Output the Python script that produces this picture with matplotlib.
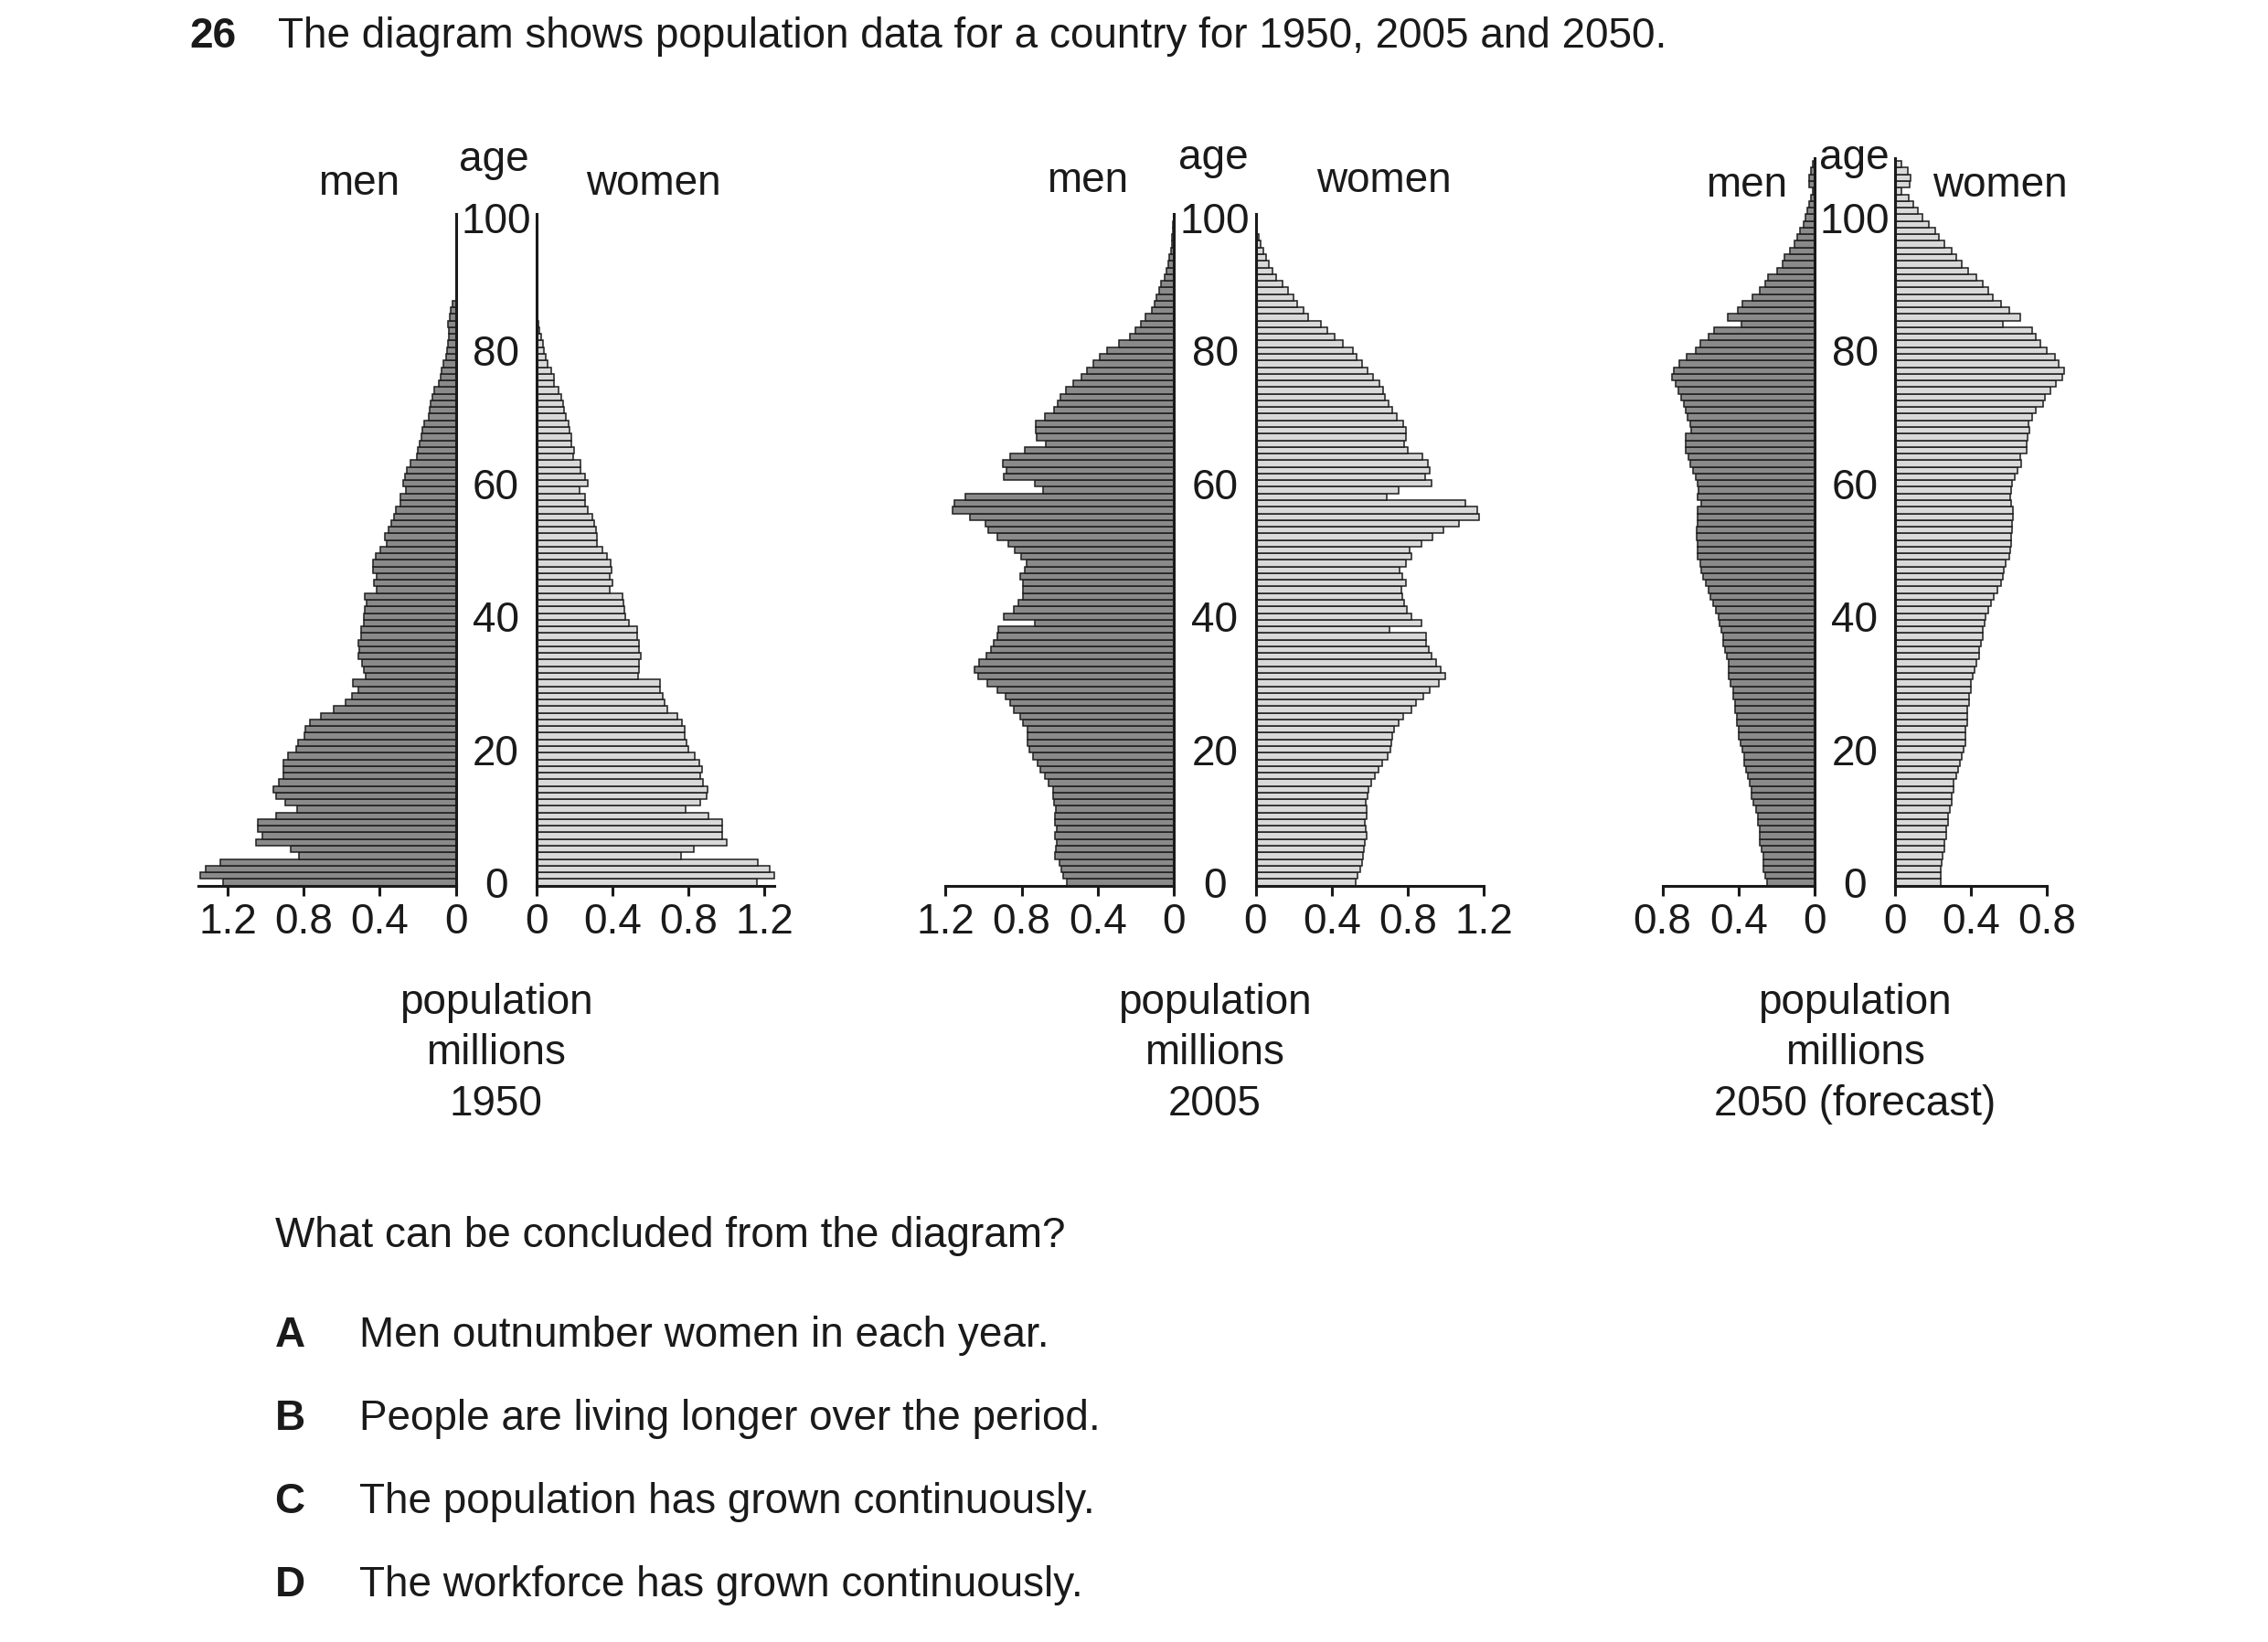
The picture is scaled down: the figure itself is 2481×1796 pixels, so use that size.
import matplotlib
matplotlib.use("Agg")
import matplotlib.pyplot as plt

plt.rcParams['font.family'] = ['Liberation Sans', 'DejaVu Sans']

# population in millions, one value per year of age (index = age)
men_1950 = [1.224, 1.346, 1.316, 1.24, 0.824, 0.869, 1.052, 1.015, 1.042, 1.042,
            0.946, 0.834, 0.895, 0.946, 0.96, 0.93, 0.906, 0.906, 0.906, 0.883,
            0.839, 0.828, 0.794, 0.792, 0.767, 0.707, 0.64, 0.579, 0.544, 0.514,
            0.541, 0.472, 0.485, 0.493, 0.51, 0.505, 0.51, 0.498, 0.498, 0.485,
            0.482, 0.477, 0.469, 0.477, 0.415, 0.428, 0.415, 0.436, 0.433, 0.42,
            0.395, 0.362, 0.374, 0.354, 0.338, 0.326, 0.313, 0.292, 0.292, 0.264,
            0.277, 0.269, 0.256, 0.236, 0.203, 0.198, 0.19, 0.179, 0.174, 0.166,
            0.144, 0.138, 0.133, 0.125, 0.111, 0.089, 0.08, 0.075, 0.067, 0.049,
            0.046, 0.043, 0.038, 0.038, 0.039, 0.033, 0.026, 0.016]
women_1950 = [1.163, 1.25, 1.228, 1.167, 0.76, 0.827, 1.0, 0.98, 0.98, 0.98,
              0.905, 0.787, 0.862, 0.898, 0.902, 0.878, 0.862, 0.874, 0.858, 0.833,
              0.80, 0.79, 0.783, 0.78, 0.766, 0.742, 0.69, 0.675, 0.665, 0.65,
              0.65, 0.534, 0.543, 0.543, 0.549, 0.543, 0.543, 0.53, 0.533, 0.489,
              0.469, 0.464, 0.459, 0.452, 0.385, 0.403, 0.385, 0.398, 0.39, 0.374,
              0.349, 0.32, 0.321, 0.313, 0.305, 0.297, 0.27, 0.259, 0.259, 0.23,
              0.27, 0.259, 0.234, 0.231, 0.193, 0.198, 0.185, 0.185, 0.177, 0.172,
              0.157, 0.148, 0.141, 0.131, 0.12, 0.095, 0.092, 0.079, 0.059, 0.049,
              0.043, 0.034, 0.026, 0.016, 0.01]

men_2005 = [0.563, 0.582, 0.593, 0.602, 0.624, 0.618, 0.615, 0.624, 0.615, 0.624,
            0.624, 0.618, 0.629, 0.633, 0.637, 0.66, 0.679, 0.70, 0.716, 0.739,
            0.758, 0.771, 0.771, 0.767, 0.793, 0.807, 0.84, 0.862, 0.886, 0.93,
            0.982, 1.028, 1.046, 1.022, 0.987, 0.96, 0.945, 0.927, 0.923, 0.73,
            0.895, 0.84, 0.817, 0.793, 0.794, 0.794, 0.807, 0.785, 0.776, 0.804,
            0.835, 0.868, 0.927, 0.976, 0.99, 1.07, 1.165, 1.152, 1.097, 0.688,
            0.73, 0.894, 0.88, 0.90, 0.862, 0.785, 0.673, 0.721, 0.728, 0.725,
            0.679, 0.628, 0.609, 0.596, 0.569, 0.527, 0.486, 0.455, 0.422, 0.39,
            0.349, 0.288, 0.233, 0.202, 0.171, 0.147, 0.114, 0.10, 0.09, 0.075,
            0.065, 0.05, 0.04, 0.03, 0.022, 0.015, 0.01, 0.008, 0.005, 0.003, 0.002]
women_2005 = [0.525, 0.538, 0.55, 0.561, 0.565, 0.569, 0.574, 0.583, 0.578, 0.574,
              0.583, 0.583, 0.58, 0.587, 0.593, 0.606, 0.626, 0.648, 0.666, 0.694,
              0.708, 0.712, 0.721, 0.727, 0.752, 0.776, 0.822, 0.844, 0.883, 0.914,
              0.965, 0.996, 0.972, 0.95, 0.927, 0.91, 0.895, 0.895, 0.703, 0.872,
              0.822, 0.794, 0.782, 0.771, 0.767, 0.789, 0.771, 0.758, 0.791, 0.822,
              0.809, 0.872, 0.928, 0.99, 1.07, 1.174, 1.165, 1.103, 0.69, 0.752,
              0.927, 0.892, 0.917, 0.904, 0.877, 0.80, 0.782, 0.791, 0.791, 0.776,
              0.743, 0.717, 0.699, 0.681, 0.67, 0.651, 0.62, 0.589, 0.56, 0.532,
              0.51, 0.46, 0.418, 0.378, 0.345, 0.277, 0.25, 0.22, 0.20, 0.17,
              0.14, 0.11, 0.09, 0.07, 0.055, 0.04, 0.025, 0.017, 0.008, 0.004, 0.002]

men_2050 = [0.25, 0.26, 0.27, 0.27, 0.27, 0.28, 0.29, 0.29, 0.29, 0.30,
            0.30, 0.31, 0.32, 0.33, 0.33, 0.34, 0.35, 0.36, 0.37, 0.37,
            0.38, 0.39, 0.40, 0.40, 0.41, 0.41, 0.42, 0.42, 0.43, 0.43,
            0.44, 0.45, 0.45, 0.45, 0.46, 0.47, 0.48, 0.48, 0.49, 0.50,
            0.503, 0.517, 0.533, 0.549, 0.559, 0.57, 0.586, 0.594, 0.60, 0.613,
            0.617, 0.614, 0.622, 0.62, 0.614, 0.617, 0.617, 0.598, 0.613, 0.61,
            0.614, 0.625, 0.638, 0.654, 0.665, 0.676, 0.678, 0.68, 0.649, 0.652,
            0.668, 0.68, 0.689, 0.70, 0.716, 0.73, 0.75, 0.74, 0.71, 0.673,
            0.625, 0.60, 0.559, 0.53, 0.387, 0.456, 0.403, 0.379, 0.327, 0.289,
            0.26, 0.244, 0.197, 0.168, 0.157, 0.129, 0.106, 0.09, 0.075, 0.059,
            0.046, 0.038, 0.027, 0.017, 0.011, 0.027, 0.027, 0.017, 0.011]
women_2050 = [0.24, 0.24, 0.24, 0.245, 0.25, 0.26, 0.26, 0.27, 0.27, 0.28,
              0.28, 0.29, 0.30, 0.30, 0.31, 0.31, 0.32, 0.33, 0.34, 0.35,
              0.36, 0.37, 0.37, 0.37, 0.38, 0.38, 0.38, 0.39, 0.39, 0.40,
              0.40, 0.41, 0.42, 0.43, 0.44, 0.44, 0.45, 0.46, 0.46, 0.47,
              0.476, 0.492, 0.506, 0.519, 0.538, 0.556, 0.567, 0.571, 0.583, 0.603,
              0.606, 0.61, 0.61, 0.614, 0.617, 0.622, 0.622, 0.61, 0.606, 0.611,
              0.614, 0.63, 0.646, 0.662, 0.657, 0.69, 0.694, 0.698, 0.706, 0.70,
              0.722, 0.741, 0.778, 0.789, 0.817, 0.848, 0.88, 0.889, 0.86, 0.84,
              0.80, 0.765, 0.74, 0.72, 0.567, 0.66, 0.60, 0.56, 0.516, 0.49,
              0.46, 0.43, 0.387, 0.35, 0.32, 0.30, 0.26, 0.229, 0.21, 0.178,
              0.146, 0.122, 0.098, 0.07, 0.035, 0.079, 0.083, 0.067, 0.035]

age_ticks = [0, 20, 40, 60, 80, 100]
men_ticks = [[0, 0.4, 0.8, 1.2], [0, 0.4, 0.8, 1.2], [0, 0.4, 0.8]]
women_ticks = [[0, 0.4, 0.8, 1.2], [0, 0.4, 0.8, 1.2], [0, 0.4, 0.8]]
years = ['1950', '2005', '2050 (forecast)']

W, H = 2481, 1796
fig = plt.figure(figsize=(W / 100, H / 100), dpi=100)

FS = 33
men_col = '#8a8a8a'
women_col = '#d9d9d9'
edge = '#1e1e1e'
px_per_m = 208          # pixels per million
y0, px_per_yr = 965, 7.27
ymin, ymax = -0.5, 110
ax_bot = y0 - px_per_yr * ymin
ax_top = y0 - px_per_yr * ymax


def add_ax(x0, x1):
    return fig.add_axes([x0 / W, 1 - ax_bot / H, (x1 - x0) / W, (ax_bot - ax_top) / H])


def style(ax, side, xend, ytop, ticks):
    for s in ['top', 'left', 'right', 'bottom']:
        ax.spines[s].set_visible(False)
    ax.spines[side].set_visible(True)
    ax.spines['bottom'].set_visible(True)
    ax.spines[side].set_bounds(ymin, ytop)
    ax.spines['bottom'].set_bounds(0, xend)
    for s in [side, 'bottom']:
        ax.spines[s].set_linewidth(2.2)
        ax.spines[s].set_color('#1a1a1a')
    ax.set_ylim(ymin, ymax)
    ax.set_xticks(ticks)
    ax.set_xticklabels(['0' if t == 0 else f'{t:g}' for t in ticks])
    ax.tick_params(axis='x', direction='out', length=8, width=2.2, color='#1a1a1a',
                   labelsize=FS, pad=5, labelcolor='#1a1a1a')
    ax.patch.set_visible(False)


panels = [
    dict(men=men_1950, women=women_1950, mx=498.5, wx=586.5, mlim=1.36, wlim=1.27,
         mend=1.352, wend=1.253, ytop=100.5, mid=542.5,
         labels=(393, 540, 715, 213, 187)),
    dict(men=men_2005, women=women_2005, mx=1284, wx=1373.5, mlim=1.22, wlim=1.22,
         mend=1.2, wend=1.2, ytop=100.5, mid=1329,
         labels=(1190, 1327, 1514, 210, 185)),
    dict(men=men_2050, women=women_2050, mx=1985, wx=2073, mlim=0.82, wlim=0.92,
         mend=0.8, wend=0.8, ytop=108.9, mid=2029,
         labels=(1911, 2028, 2188, 215, 185)),
]

for i, p in enumerate(panels):
    ax_m = add_ax(p['mx'] - p['mlim'] * px_per_m, p['mx'])
    ax_w = add_ax(p['wx'], p['wx'] + p['wlim'] * px_per_m)

    ax_m.barh(range(len(p['men'])), p['men'], height=1.0, color=men_col,
              edgecolor=edge, linewidth=1.1)
    ax_w.barh(range(len(p['women'])), p['women'], height=1.0, color=women_col,
              edgecolor=edge, linewidth=1.1)
    ax_m.set_xlim(p['mlim'], 0)
    ax_w.set_xlim(0, p['wlim'])

    style(ax_m, 'right', p['mend'], p['ytop'], men_ticks[i])
    style(ax_w, 'left', p['wend'], p['ytop'], women_ticks[i])
    ax_m.set_yticks([])

    # age labels sit in the gap between the two halves
    ax_w.set_yticks(age_ticks)
    ax_w.set_yticklabels([str(a) for a in age_ticks])
    ax_w.tick_params(axis='y', length=0, labelsize=FS, labelcolor='#1a1a1a',
                     pad=(p['wx'] - p['mid']) * 0.72)
    for t in ax_w.get_yticklabels():
        t.set_horizontalalignment('center')

    xm, xa, xw, yb, ya = p['labels']
    fig.text(xm / W, 1 - yb / H, 'men', ha='center', va='baseline', fontsize=FS, color='#1a1a1a')
    fig.text(xa / W, 1 - ya / H, 'age', ha='center', va='baseline', fontsize=FS, color='#1a1a1a')
    fig.text(xw / W, 1 - yb / H, 'women', ha='center', va='baseline', fontsize=FS, color='#1a1a1a')

    cx = (p['mx'] + p['wx']) / 2
    for j, line in enumerate(['population', 'millions', years[i]]):
        fig.text(cx / W, 1 - (1097 + 55.5 * j) / H, line, ha='center', va='center',
                 fontsize=FS, color='#1a1a1a')

# question text
fig.text(207 / W, 1 - 52 / H, '26', fontsize=FS, fontweight='bold', va='baseline', color='#1a1a1a')
fig.text(304 / W, 1 - 52 / H, 'The diagram shows population data for a country for 1950, 2005 and 2050.',
         fontsize=FS, va='baseline', color='#1a1a1a')
fig.text(301 / W, 1 - 1352 / H, 'What can be concluded from the diagram?',
         fontsize=FS, va='center', color='#1a1a1a')

options = ['Men outnumber women in each year.',
           'People are living longer over the period.',
           'The population has grown continuously.',
           'The workforce has grown continuously.']
for k, (letter, txt) in enumerate(zip('ABCD', options)):
    yy = 1461 + 91 * k
    fig.text(317 / W, 1 - yy / H, letter, fontsize=FS, fontweight='bold', ha='center',
             va='center', color='#1a1a1a')
    fig.text(393 / W, 1 - yy / H, txt, fontsize=FS, va='center', color='#1a1a1a')

fig.savefig('out.png', dpi=100, facecolor='white')
